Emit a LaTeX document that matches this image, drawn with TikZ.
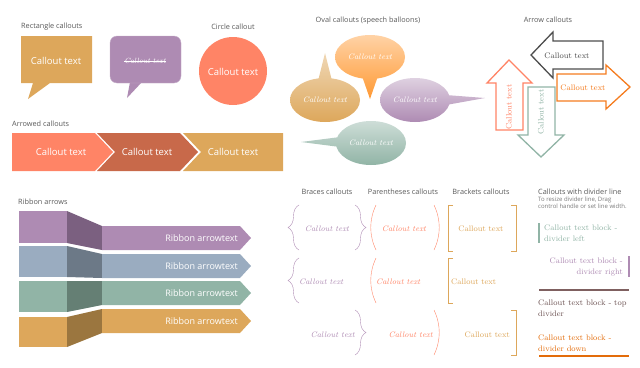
\documentclass[tikz,border=0pt]{standalone}
\usepackage{fontspec}
\setsansfont{Open Sans}
\usepackage{xcolor}
\usepackage{tikz}
\usetikzlibrary{decorations.pathreplacing}

\definecolor{labelgray}{HTML}{595959}
\definecolor{calgold}{HTML}{DDA75B}
\definecolor{calpurple}{HTML}{AE8BB3}
\definecolor{calsalmon}{HTML}{FF8466}
\definecolor{calsienna}{HTML}{C8694A}
\definecolor{calblue}{HTML}{9AACC0}
\definecolor{calgreen}{HTML}{91B4A6}
\definecolor{darkpurple}{HTML}{7B6080}
\definecolor{darkblue}{HTML}{6C7987}
\definecolor{darkgreen}{HTML}{657F74}
\definecolor{darkgold}{HTML}{9B763F}
\definecolor{arrowgray}{HTML}{4D4D4D}
\definecolor{arroworange}{HTML}{F57C1F}
\definecolor{dividerbrown}{HTML}{7F6060}
\definecolor{dividerorange}{HTML}{E36C0A}

\begin{document}
\begin{tikzpicture}[x=1pt, y=-1pt,
  title/.style={font=\sffamily\fontsize{7.3}{8}\selectfont, text=labelgray, inner sep=0pt},
  whitetext/.style={font=\sffamily\fontsize{9.5}{10}\selectfont, text=white, inner sep=0pt},
  ribbontext/.style={font=\sffamily\fontsize{9}{10}\selectfont, text=white, inner sep=0pt},
  ovaltext/.style={font=\itshape\fontsize{8}{9}\selectfont, text=white, inner sep=0pt},
  romantext/.style={font=\fontsize{8}{9}\selectfont, inner sep=0pt},
  italictext/.style={font=\itshape\fontsize{8}{9}\selectfont, inner sep=0pt},
  blocktext/.style={font=\fontsize{8}{10.5}\selectfont, inner sep=0pt},
  outlinearrow/.style={line width=1.3pt, fill=white, line join=miter}]
  \useasboundingbox (0,0) rectangle (640,367);

  % Rectangle callouts
  \node[title, anchor=west] (rectlabel) at (21,27) {Rectangle callouts};
  \fill[calgold] (21,36) -- (92,36) -- (92,83) -- (50,83) -- (28,99) -- (33,83)
    -- (21,83) -- cycle;
  \node[whitetext] (recttext) at (56,61) {Callout text};
  \fill[calpurple] (130,82) -- (127,98) -- (142,82) -- cycle;
  \draw[calpurple!70!white, fill=calpurple, rounded corners=7pt]
    (110,36) rectangle (181,83);
  \node[font=\itshape\fontsize{7.5}{9}\selectfont, text=white, inner sep=0pt]
    (roundtext) at (145,61) {Callout text};
  \draw[white, semithick] ([yshift=-0.5pt]roundtext.west) -- ([yshift=-0.5pt]roundtext.east);

  % Circle callout
  \node[title] (circlelabel) at (233,27) {Circle callout};
  \fill[calsalmon] (233,71) circle (34);
  \node[whitetext] (circletext) at (233,72) {Callout text};

  % Arrowed callouts
  \node[title, anchor=west] (chevronlabel) at (12,124) {Arrowed callouts};
  \fill[calsalmon] (12,133) -- (95,133) -- (113,152) -- (95,171) -- (12,171) -- cycle;
  \fill[calsienna] (97,133) -- (180,133) -- (198,152) -- (180,171) -- (97,171)
    -- (115,152) -- cycle;
  \fill[calgold] (183,133) -- (283,133) -- (283,171) -- (183,171) -- (201,152) -- cycle;
  \node[whitetext] (chevrontexta) at (61,152) {Callout text};
  \node[whitetext] (chevrontextb) at (147,152) {Callout text};
  \node[whitetext] (chevrontextc) at (233,152) {Callout text};

  % Ribbon arrows
  \node[title, anchor=west] (ribbonlabel) at (18,202) {Ribbon arrows};
  \fill[calpurple] (19,211) rectangle (67,243);
  \fill[darkpurple] (67,211) -- (102,226) -- (102,250) -- (67,243) -- cycle;
  \fill[calpurple] (102,226) -- (240,226) -- (251,238) -- (240,250) -- (102,250) -- cycle;
  \fill[calblue] (19,246) rectangle (67,277);
  \fill[darkblue] (67,246) -- (102,254) -- (102,278) -- (67,277) -- cycle;
  \fill[calblue] (102,254) -- (240,254) -- (251,266) -- (240,278) -- (102,278) -- cycle;
  \fill[calgreen] (19,281) rectangle (67,312);
  \fill[darkgreen] (67,281) -- (102,281) -- (102,305) -- (67,312) -- cycle;
  \fill[calgreen] (102,281) -- (240,281) -- (251,293) -- (240,305) -- (102,305) -- cycle;
  \fill[calgold] (19,317) rectangle (67,347);
  \fill[darkgold] (67,317) -- (102,309) -- (102,333) -- (67,347) -- cycle;
  \fill[calgold] (102,309) -- (240,309) -- (251,321) -- (240,333) -- (102,333) -- cycle;
  \node[ribbontext, anchor=east] (ribbontexta) at (238,238) {Ribbon arrowtext};
  \node[ribbontext, anchor=east] (ribbontextb) at (238,266) {Ribbon arrowtext};
  \node[ribbontext, anchor=east] (ribbontextc) at (238,293) {Ribbon arrowtext};
  \node[ribbontext, anchor=east] (ribbontextd) at (238,321) {Ribbon arrowtext};

  % Oval callouts
  \node[title] (ovallabel) at (368,21) {Oval callouts (speech balloons)};
  \shade[top color=orange!35!white, bottom color=orange!80!white]
    (370,57) ellipse [x radius=35, y radius=22]
    (378,76) -- (370,99) -- (362,76) -- cycle;
  \shade[top color=calgold!45!white, bottom color=calgold]
    (325,100) ellipse [x radius=35, y radius=22]
    (318,81) -- (325,53) -- (332,81) -- cycle;
  \shade[top color=calpurple!40!white, bottom color=calpurple]
    (415,100) ellipse [x radius=35, y radius=22]
    (446,95) -- (485,98) -- (446,105) -- cycle;
  \shade[top color=calgreen!45!white, bottom color=calgreen]
    (371,143) ellipse [x radius=35, y radius=22]
    (340,147) -- (301,142) -- (340,137) -- cycle;
  \node[ovaltext] (ovaltexta) at (370,57) {Callout text};
  \node[ovaltext] (ovaltextb) at (325,100) {Callout text};
  \node[ovaltext] (ovaltextc) at (415,100) {Callout text};
  \node[ovaltext] (ovaltextd) at (371,143) {Callout text};

  % Arrow callouts
  \node[title] (arrowlabel) at (548,20) {Arrow callouts};
  \draw[outlinearrow, draw=calsalmon] (509,60) -- (532,83) -- (523,83) -- (523,130)
    -- (496,130) -- (496,83) -- (487,83) -- cycle;
  \draw[outlinearrow, draw=calgreen] (528,87) -- (555,87) -- (555,135) -- (564,135)
    -- (541,157) -- (518,135) -- (528,135) -- cycle;
  \draw[outlinearrow, draw=arrowgray] (531,55) -- (553,32) -- (553,41) -- (603,41)
    -- (603,69) -- (553,69) -- (553,78) -- cycle;
  \draw[outlinearrow, draw=arroworange] (557,74) -- (606,74) -- (606,65) -- (630,87)
    -- (606,109) -- (606,101) -- (557,101) -- cycle;
  \node[romantext, text=arrowgray] (arrowtexta) at (567,56) {Callout text};
  \node[romantext, text=arroworange] (arrowtextb) at (583,88) {Callout text};
  \node[romantext, text=calsalmon, rotate=90] (arrowtextc) at (509,107) {Callout text};
  \node[romantext, text=calgreen, rotate=90] (arrowtextd) at (541,112) {Callout text};

  % Braces callouts
  \node[title] (braceslabel) at (327,192) {Braces callouts};
  \draw[calpurple, decorate, decoration={brace, amplitude=11pt}] (299,250) -- (299,205);
  \draw[calpurple, decorate, decoration={brace, amplitude=11pt}] (355,205) -- (355,250);
  \draw[calpurple, decorate, decoration={brace, amplitude=11pt}] (299,303) -- (299,258);
  \draw[calpurple, decorate, decoration={brace, amplitude=11pt}] (355,310) -- (355,355);
  \node[italictext, text=calpurple] (bracestexta) at (327,229) {Callout text};
  \node[italictext, text=calpurple, anchor=west] (bracestextb) at (299,282) {Callout text};
  \node[italictext, text=calpurple, anchor=east] (bracestextc) at (355,335) {Callout text};

  % Parentheses callouts
  \node[title] (parenlabel) at (403,192) {Parentheses callouts};
  \draw[calsalmon] (376,205) .. controls (369,220) and (369,235) .. (376,250);
  \draw[calsalmon] (434,205) .. controls (441,220) and (441,235) .. (434,250);
  \draw[calsalmon] (376,258) .. controls (369,273) and (369,288) .. (376,303);
  \draw[calsalmon] (434,310) .. controls (441,325) and (441,340) .. (434,355);
  \node[italictext, text=calsalmon] (parentexta) at (404,229) {Callout text};
  \node[italictext, text=calsalmon, anchor=west] (parentextb) at (376,282) {Callout text};
  \node[italictext, text=calsalmon, anchor=east] (parentextc) at (433,335) {Callout text};

  % Brackets callouts
  \node[title] (bracketlabel) at (481,192) {Brackets callouts};
  \draw[calgold] (453,205) -- (448,205) -- (448,251) -- (453,251);
  \draw[calgold] (511,205) -- (516,205) -- (516,251) -- (511,251);
  \draw[calgold] (453,258) -- (448,258) -- (448,303) -- (453,303);
  \draw[calgold] (511,310) -- (516,310) -- (516,355) -- (511,355);
  \node[romantext, text=calgold] (brackettexta) at (481,229) {Callout text};
  \node[romantext, text=calgold, anchor=west] (brackettextb) at (451,282) {Callout text};
  \node[romantext, text=calgold, anchor=east] (brackettextc) at (510,335) {Callout text};

  % Callouts with divider line
  \node[title, anchor=west] (dividerlabel) at (538,192) {Callouts with divider line};
  \node[font=\sffamily\fontsize{6}{7.2}\selectfont, text=labelgray!80, inner sep=0pt,
    anchor=north west, align=left] (dividernote) at (538,197)
    {To resize divider line, Drag\\control handle or set line width.};
  \draw[calgreen, line width=2pt] (539,223) -- (539,243);
  \node[blocktext, text=calgreen, anchor=west, align=left] (dividertexta) at (544,233)
    {Callout text block -\\divider left};
  \draw[calpurple, line width=2pt] (629,256) -- (629,277);
  \node[blocktext, text=calpurple, anchor=east, align=right] (dividertextb) at (623,267)
    {Callout text block -\\divider right};
  \draw[dividerbrown, line width=1.5pt] (539,290) -- (629,290);
  \node[blocktext, text=dividerbrown!85!black, anchor=west, align=left] (dividertextc)
    at (538,308) {Callout text block - top\\divider};
  \node[blocktext, text=dividerorange, anchor=west, align=left] (dividertextd)
    at (538,343) {Callout text block -\\divider down};
  \draw[dividerorange, line width=1.5pt] (539,356) -- (629,356);
\end{tikzpicture}
\end{document}
